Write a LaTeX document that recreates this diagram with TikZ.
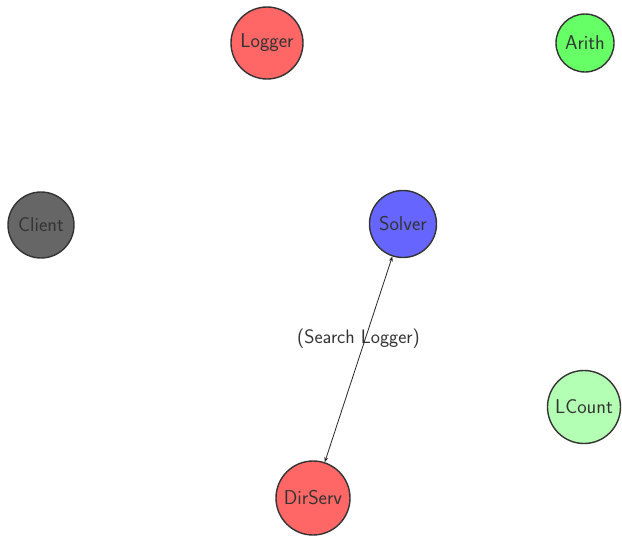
\documentclass[tikz,border=0pt]{standalone}
\usetikzlibrary{arrows.meta}
\definecolor{edgegray}{HTML}{333333}
\definecolor{redfill}{HTML}{FF6666}
\definecolor{greenfill}{HTML}{66FF66}
\definecolor{palegreen}{HTML}{B3FFB3}
\definecolor{bluefill}{HTML}{6666FF}
\definecolor{grayfill}{HTML}{666666}
\begin{document}
\begin{tikzpicture}[x=1pt,y=-1pt,
  agent/.style={circle, draw=edgegray, line width=1.4pt, text=edgegray,
    inner sep=0pt, font=\sffamily\fontsize{20}{24}\selectfont},
  link/.style={draw=black!85, line width=0.8pt, {Stealth[length=5pt,width=4pt]}-{Stealth[length=5pt,width=4pt]}},
  lbl/.style={font=\sffamily\fontsize{19.5}{24}\selectfont, text=edgegray}]
\useasboundingbox (0,0) rectangle (622,536);
\node[agent, fill=redfill,   minimum size=72pt] (logger) at (267,43)  {Logger};
\node[agent, fill=greenfill, minimum size=58pt] (arith)  at (585,43)  {Arith};
\node[agent, fill=grayfill,  minimum size=66pt] (client) at (41,225)  {Client};
\node[agent, fill=bluefill,  minimum size=67pt] (solver) at (403,224) {Solver};
\node[agent, fill=palegreen, minimum size=73pt] (lcount) at (584,407) {LCount};
\node[agent, fill=redfill,   minimum size=74pt] (dirserv) at (313,498) {DirServ};
\draw[link] (solver) -- node[lbl, midway, yshift=21pt] (edgelabel) {(Search Logger)} (dirserv);
\end{tikzpicture}
\end{document}
